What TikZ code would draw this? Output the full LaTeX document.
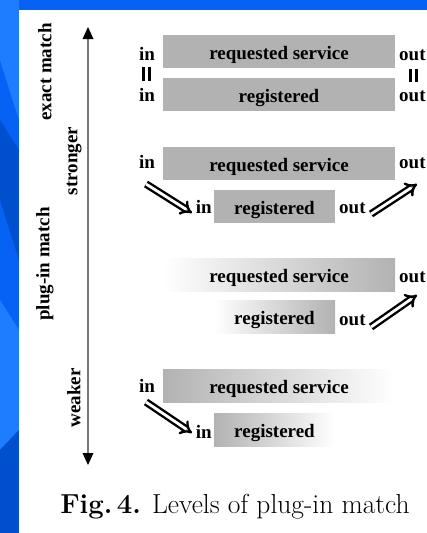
\documentclass[tikz,border=0pt]{standalone}
\usepackage{fontspec}
\usetikzlibrary{arrows.meta}
\newfontfamily\lblfont{Liberation Serif}
\definecolor{slideblue}{RGB}{6,98,245}
\definecolor{slidelight}{RGB}{30,125,255}
\definecolor{slidedark}{RGB}{0,80,205}
\definecolor{boxgray}{RGB}{178,178,178}
\definecolor{axisgray}{RGB}{120,120,120}
\tikzset{
  lbl/.style={font=\lblfont\bfseries\fontsize{19}{21}\selectfont, inner sep=0pt},
  sidelbl/.style={lbl, rotate=90},
  portlbl/.style={lbl, anchor=base},
  svcbox/.style={fill=boxgray, draw=none, minimum width=232pt, minimum height=33pt,
    inner sep=0pt, text height=16pt, text depth=1pt, lbl},
  regbox/.style={svcbox, minimum width=121pt},
  fadeL/.style={fill=none, left color=white, right color=boxgray},
  fadeR/.style={fill=none, left color=boxgray, right color=white},
  implies/.style={line width=2.4pt, double distance=2.8pt, -{Implies}},
  eqbar/.style={line width=3pt},
}
\begin{document}
\begin{tikzpicture}[x=1pt, y=-1pt]
% slide background
\fill[slideblue] (0,0) rectangle (427,533);
\fill[slidelight] (0,0) -- (19,0) -- (19,120) -- (0,60) -- cycle;
\fill[slidedark] (0,120) -- (19,150) -- (19,260) -- (0,200) -- cycle;
\fill[slidelight] (0,300) -- (19,330) -- (19,430) -- (0,450) -- cycle;
\fill[slidedark] (0,450) -- (19,430) -- (19,533) -- (0,533) -- cycle;
\fill[white] (19,10) rectangle (427,533);
\useasboundingbox (0,0) rectangle (427,533);
\clip (0,0) rectangle (427,533);

% strength axis
\coordinate (top) at (88,27);
\coordinate (bot) at (88,465);
\draw[axisgray, line width=1.6pt] (88,38) -- (88,454);
\fill (top) -- ++(-5.5,12) -- ++(11,0) -- cycle;
\fill (bot) -- ++(-5.5,-12) -- ++(11,0) -- cycle;
\node[sidelbl] (exact) at (45,72) {exact match};
\node[sidelbl] (plugin) at (45,264) {plug-in match};
\node[sidelbl] (stronger) at (74,161) {stronger};
\node[sidelbl] (weaker) at (74,398) {weaker};

% exact match
\node[svcbox] (req1) at (279,51.5) {requested service};
\node[svcbox] (reg1) at (279,94.5) {registered};
\node[portlbl] (in1a) at (147,60) {in};
\node[portlbl] (in1b) at (147,101) {in};
\node[portlbl, anchor=base west] (out1a) at (399,60) {out};
\node[portlbl, anchor=base west] (out1b) at (399,101) {out};
\draw[eqbar] (143,67) -- (143,81) (149,67) -- (149,81);
\draw[eqbar] (410,69) -- (410,82) (416,69) -- (416,82);

% plug-in match on both sides
\node[svcbox] (req2) at (279,163.5) {requested service};
\node[regbox] (reg2) at (274.5,206.5) {registered};
\node[portlbl] (in2a) at (147,168) {in};
\node[portlbl, anchor=base east] (in2b) at (212,213) {in};
\node[portlbl, anchor=base west] (out2a) at (399,168) {out};
\node[portlbl, anchor=base west] (out2b) at (339,213) {out};
\coordinate (a2s) at (146,184);
\coordinate (a2e) at (192,213);
\coordinate (b2s) at (371,214);
\coordinate (b2e) at (417,184);
\draw[implies] (a2s) -- (a2e);
\draw[implies] (b2s) -- (b2e);

% output side only
\node[svcbox, fadeL] (req3) at (279,274.5) {requested service};
\node[regbox, fadeL] (reg3) at (274.5,317) {registered};
\node[portlbl, anchor=base west] (out3a) at (399,282) {out};
\node[portlbl, anchor=base west] (out3b) at (339,325) {out};
\coordinate (b3s) at (371,327);
\coordinate (b3e) at (417,295);
\draw[implies] (b3s) -- (b3e);

% input side only
\node[svcbox, fadeR] (req4) at (279,386) {requested service};
\node[regbox, fadeR] (reg4) at (274.5,429.5) {registered};
\node[portlbl] (in4a) at (147,392) {in};
\node[portlbl, anchor=base east] (in4b) at (212,438) {in};
\coordinate (a4s) at (146,402);
\coordinate (a4e) at (192,433);
\draw[implies] (a4s) -- (a4e);

% caption
\node[inner sep=0pt, font=\fontsize{27.5}{30}\selectfont] (cap) at (235,507)
  {\textbf{Fig.\,4.} Levels of plug-in match};
\end{tikzpicture}
\end{document}
